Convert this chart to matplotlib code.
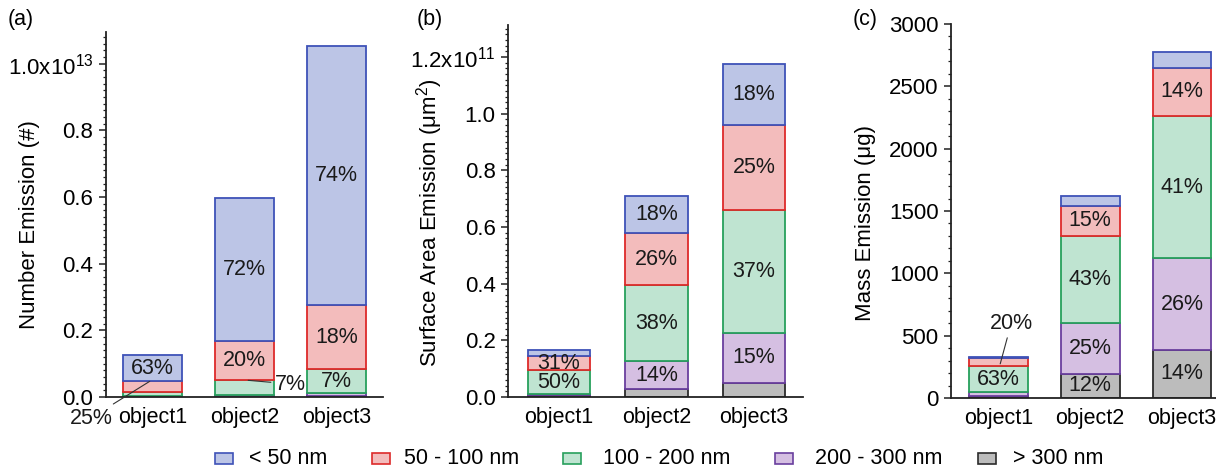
import matplotlib.pyplot as plt
from matplotlib.patches import Rectangle
from matplotlib.ticker import MultipleLocator, FixedLocator

plt.rcParams['font.family'] = ['Liberation Sans', 'DejaVu Sans']
plt.rcParams['mathtext.fontset'] = 'custom'
plt.rcParams['mathtext.rm'] = 'Liberation Sans'
plt.rcParams['mathtext.it'] = 'Liberation Sans:italic'

OBJECTS = ['object1', 'object2', 'object3']
SIZE_BINS = ['< 50 nm', '50 - 100 nm', '100 - 200 nm', '200 - 300 nm', '> 300 nm']

# Number emission (x 1e13), one list per size bin
number_lt50 = [0.080, 0.430, 0.777]
number_50_100 = [0.032, 0.118, 0.192]
number_100_200 = [0.011, 0.044, 0.071]
number_200_300 = [0.003, 0.005, 0.009]
number_gt300 = [0.001, 0.001, 0.003]

# Surface area emission (x 1e11 um^2)
area_lt50 = [0.021, 0.128, 0.215]
area_50_100 = [0.052, 0.186, 0.298]
area_100_200 = [0.083, 0.268, 0.434]
area_200_300 = [0.005, 0.099, 0.176]
area_gt300 = [0.006, 0.027, 0.051]

# Mass emission (ug)
mass_lt50 = [10, 78, 128]
mass_50_100 = [66, 248, 387]
mass_100_200 = [208, 695, 1143]
mass_200_300 = [28, 406, 733]
mass_gt300 = [18, 195, 387]

FILLS = ['#bcc5e6', '#f3bcbc', '#bfe4d1', '#d5bfe2', '#bcbcbc']
EDGES = ['#3e52b8', '#dd2a2a', '#27a05c', '#6a3f9e', '#2b2b2b']

FS = 15.5
TICK_FS = 16
DPI = 100
W, H = 1216, 468


def px_axes(fig, left, right, y_bottom, y_top):
    """Add axes given pixel edges (y measured from the top of the image)."""
    return fig.add_axes([left / W, (H - y_bottom) / H, (right - left) / W, (y_bottom - y_top) / H])


def pct(series, i, k):
    total = sum(s[i] for s in series)
    return int(series[k][i] / total * 100 + 0.5)


def draw_panel(ax, series, inside, callouts, width):
    """Stack the size bins bottom-up (> 300 nm first) and write the shares."""
    seg = {}
    for i in range(len(OBJECTS)):
        bottom = 0.0
        for k in reversed(range(len(series))):
            val = series[k][i]
            ax.add_patch(Rectangle((i - width / 2, bottom), width, val,
                                   facecolor=FILLS[k], edgecolor=EDGES[k],
                                   linewidth=1.3, zorder=2))
            seg[(i, k)] = (bottom, val)
            bottom += val
    for i, k in inside:
        b, v = seg[(i, k)]
        ax.text(i, b + v / 2, f'{pct(series, i, k)}%', ha='center', va='center',
                fontsize=FS, color='#1a1a1a', zorder=3)
    for i, k, dx, frac, text_xy in callouts:
        b, v = seg[(i, k)]
        ax.annotate(f'{pct(series, i, k)}%', xy=(i + dx, b + v * frac), xytext=text_xy,
                    ha='center', va='center', fontsize=FS, color='#1a1a1a',
                    annotation_clip=False,
                    arrowprops=dict(arrowstyle='-', color='#333333', lw=0.8,
                                    shrinkA=1, shrinkB=0))


def style_axes(ax, major, minor, labels, ymax, xlim):
    ax.set_xlim(*xlim)
    ax.set_ylim(0, ymax)
    for side in ('top', 'right'):
        ax.spines[side].set_visible(False)
    for side in ('left', 'bottom'):
        ax.spines[side].set_linewidth(1.3)
        ax.spines[side].set_color('#222222')
    ax.yaxis.set_major_locator(FixedLocator(major))
    ax.set_yticklabels(labels)
    ax.yaxis.set_minor_locator(MultipleLocator(minor))
    ax.tick_params(axis='y', which='major', direction='out', length=5, width=1.1,
                   pad=4, labelsize=TICK_FS, color='#222222')
    ax.tick_params(axis='y', which='minor', direction='out', length=2.5, width=0.9,
                   color='#222222')
    ax.set_xticks(range(len(OBJECTS)))
    ax.set_xticklabels(OBJECTS)
    ax.tick_params(axis='x', length=0, pad=7, labelsize=FS)


fig = plt.figure(figsize=(W / DPI, H / DPI), dpi=DPI)

# (a) number emission
ax_a = px_axes(fig, 106, 383, 397, 32)
number = [number_lt50, number_50_100, number_100_200, number_200_300, number_gt300]
draw_panel(ax_a, number,
           inside=[(0, 0), (1, 0), (1, 1), (2, 0), (2, 1), (2, 2)],
           callouts=[(0, 1, -0.03, 1.0, (-0.67, -0.063)),
                     (1, 2, 0.04, 1.0, (1.5, 0.039))],
           width=0.64)
style_axes(ax_a, [0, 0.2, 0.4, 0.6, 0.8, 1.0], 0.02,
           ['0.0', '0.2', '0.4', '0.6', '0.8', r'1.0x10$^{13}$'],
           1.095, (-0.505, 2.505))

# (b) surface area emission
ax_b = px_axes(fig, 508, 803, 397, 25)
area = [area_lt50, area_50_100, area_100_200, area_200_300, area_gt300]
draw_panel(ax_b, area,
           inside=[(0, 1), (0, 2), (1, 0), (1, 1), (1, 2), (1, 3),
                   (2, 0), (2, 1), (2, 2), (2, 3)],
           callouts=[], width=0.64)
style_axes(ax_b, [0, 0.2, 0.4, 0.6, 0.8, 1.0, 1.2], 0.02,
           ['0.0', '0.2', '0.4', '0.6', '0.8', '1.0', r'1.2x10$^{11}$'],
           1.313, (-0.52, 2.5))

# (c) mass emission
ax_c = px_axes(fig, 951, 1216, 398, 24)
mass = [mass_lt50, mass_50_100, mass_100_200, mass_200_300, mass_gt300]
draw_panel(ax_c, mass,
           inside=[(0, 2), (1, 1), (1, 2), (1, 3), (1, 4),
                   (2, 1), (2, 2), (2, 3), (2, 4)],
           callouts=[(0, 1, 0.02, 0.3, (0.14, 600))],
           width=0.64)
style_axes(ax_c, [0, 500, 1000, 1500, 2000, 2500, 3000], 100,
           ['0', '500', '1000', '1500', '2000', '2500', '3000'],
           3000, (-0.516, 2.37))

# axis titles and panel letters
for x, y, txt in [(30, 225, 'Number Emission (#)'),
                  (430, 223, r'Surface Area Emission ($\mathregular{\mu m^2}$)'),
                  (865, 223, 'Mass Emission (μg)')]:
    fig.text(x / W, 1 - y / H, txt, rotation=90, ha='center', va='center', fontsize=16)
for x, txt in [(21, '(a)'), (430, '(b)'), (865, '(c)')]:
    fig.text(x / W, 1 - 19 / H, txt, ha='center', va='center', fontsize=FS)

# legend row
square_x = [215, 372, 563, 775, 978]
text_x = [249, 404, 603, 815, 1013]
for k, label in enumerate(SIZE_BINS):
    fig.patches.append(Rectangle((square_x[k] / W, 1 - 464 / H), 18 / W, 11 / H,
                                 transform=fig.transFigure, facecolor=FILLS[k],
                                 edgecolor=EDGES[k], linewidth=1.2))
    fig.text(text_x[k] / W, 1 - 458 / H, label, ha='left', va='center', fontsize=15.5)

fig.savefig('out.png', dpi=DPI)
